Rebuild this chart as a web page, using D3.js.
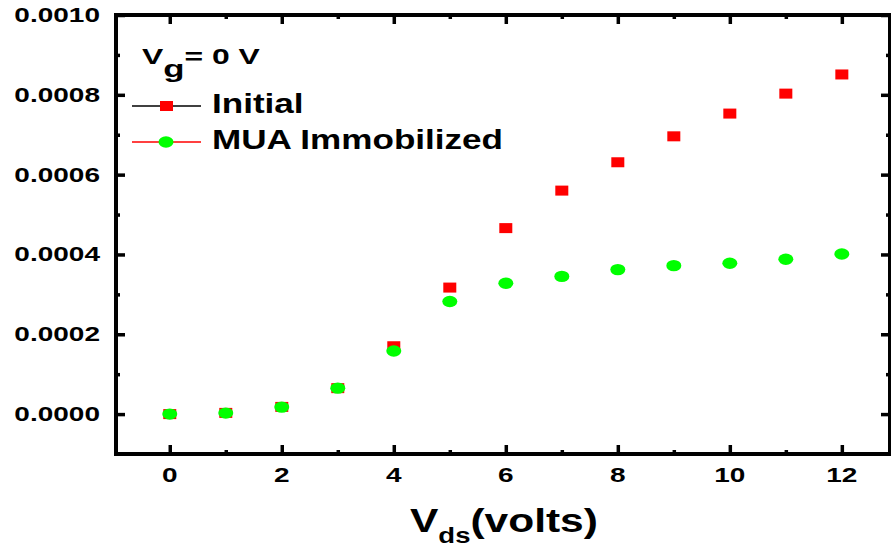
<!DOCTYPE html>
<html>
<head>
<meta charset="utf-8">
<script src="https://cdn.jsdelivr.net/npm/d3@7"></script>
<style>
  html, body { margin: 0; padding: 0; background: #fff; }
  svg { display: block; }
  text { font-family: "Liberation Sans", Arial, sans-serif; font-weight: bold; fill: #000; }
</style>
</head>
<body>
<svg width="891" height="552"></svg>
<script>
// Vds (volts)
const vds = [0, 1, 2, 3, 4, 5, 6, 7, 8, 9, 10, 11, 12];
// drain current, initial device
const initial = [0, 0.000003, 0.000018, 0.000065, 0.00017, 0.000317, 0.000466, 0.00056, 0.000631, 0.000696, 0.000753, 0.000803, 0.000851];
// drain current after MUA immobilization
const immobilized = [0, 0.0000025, 0.0000175, 0.000065, 0.000158, 0.000282, 0.000328, 0.000345, 0.000362, 0.000372, 0.000378, 0.000388, 0.000401];

const xMajor = [0, 2, 4, 6, 8, 10, 12];
const xMinor = [-1, 1, 3, 5, 7, 9, 11];
const yMajor = [0, 0.0002, 0.0004, 0.0006, 0.0008, 0.001];
const yMinor = [0.0001, 0.0003, 0.0005, 0.0007, 0.0009];

const svg = d3.select('svg');
const plotLeft = 116, plotRight = 890, plotTop = 15, plotBottom = 454;
const stretch = 1.4; // the original figure is wider than tall

const x = d3.scaleLinear().domain([-0.96, 12.86]).range([plotLeft, plotRight]);
const y = d3.scaleLinear().domain([-0.0001, 0.001]).range([plotBottom, plotTop]);

const tickStyle = g => {
  g.select('.domain').remove();
  g.selectAll('line').attr('stroke', '#000').attr('stroke-width', 3.5);
  g.selectAll('text').remove();
};

// major + minor ticks on all four sides, pointing inward
const sides = [
  [d3.axisBottom, `translate(0,${plotBottom})`, x, xMajor, xMinor],
  [d3.axisTop, `translate(0,${plotTop})`, x, xMajor, xMinor],
  [d3.axisLeft, `translate(${plotLeft},0)`, y, yMajor, yMinor],
  [d3.axisRight, `translate(${plotRight},0)`, y, yMajor, yMinor]
];
sides.forEach(([ax, tr, sc, major, minor]) => {
  svg.append('g').attr('transform', tr)
    .call(ax(sc).tickValues(major).tickSize(-9)).call(tickStyle);
  svg.append('g').attr('transform', tr)
    .call(ax(sc).tickValues(minor.filter(v => v > sc.domain()[0])).tickSize(-4)).call(tickStyle);
});

// frame
svg.append('rect')
  .attr('x', plotLeft).attr('y', plotTop)
  .attr('width', plotRight - plotLeft).attr('height', plotBottom - plotTop)
  .attr('fill', 'none').attr('stroke', '#000').attr('stroke-width', 4);

// tick labels
svg.append('g').selectAll('text').data(xMajor).join('text')
  .attr('transform', d => `translate(${x(d)},482) scale(${stretch},1)`)
  .attr('text-anchor', 'middle')
  .style('font-size', '20px')
  .text(d => d);

svg.append('g').selectAll('text').data(yMajor).join('text')
  .attr('transform', d => `translate(100,${y(d) + 7}) scale(${stretch},1)`)
  .attr('text-anchor', 'end')
  .style('font-size', '20px')
  .text(d => d3.format('.4f')(d));

// points
svg.append('g').selectAll('rect').data(vds).join('rect')
  .attr('x', d => x(d) - 6.5)
  .attr('y', (d, i) => y(initial[i]) - 5)
  .attr('width', 13).attr('height', 10)
  .attr('fill', '#ff0000');

svg.append('g').selectAll('ellipse').data(vds).join('ellipse')
  .attr('cx', d => x(d))
  .attr('cy', (d, i) => y(immobilized[i]))
  .attr('rx', 7.5).attr('ry', 5.7)
  .attr('fill', '#00ff00');

// legend
const vg = svg.append('text')
  .attr('transform', `translate(142,64) scale(1.45,1)`)
  .style('font-size', '22px');
vg.append('tspan').text('V');
vg.append('tspan').attr('dy', 13).style('font-size', '24px').text('g');
vg.append('tspan').attr('dy', -13).text('= 0 V');

const legend = [
  { name: 'Initial', y: 106, line: '#000', shape: 'rect' },
  { name: 'MUA Immobilized', y: 142, line: '#ff0000', shape: 'ellipse' }
];
const lg = svg.append('g').selectAll('g').data(legend).join('g');
lg.append('line')
  .attr('x1', 132).attr('x2', 201)
  .attr('y1', d => d.y).attr('y2', d => d.y)
  .attr('stroke', d => d.line).attr('stroke-width', 1.5);
lg.filter(d => d.shape === 'rect').append('rect')
  .attr('x', 160).attr('y', d => d.y - 5)
  .attr('width', 13).attr('height', 10).attr('fill', '#ff0000');
lg.filter(d => d.shape === 'ellipse').append('ellipse')
  .attr('cx', 166).attr('cy', d => d.y)
  .attr('rx', 7.5).attr('ry', 5.7).attr('fill', '#00ff00');
lg.append('text')
  .attr('transform', d => `translate(212,${d.y + 7}) scale(1.3,1)`)
  .style('font-size', '27px')
  .text(d => d.name);

// x axis title
const xt = svg.append('text')
  .attr('transform', `translate(410,532) scale(1.25,1)`)
  .style('font-size', '34px');
xt.append('tspan').text('V');
xt.append('tspan').attr('dy', 11).style('font-size', '22px').text('ds');
xt.append('tspan').attr('dy', -11).text('(volts)');
</script>
</body>
</html>
